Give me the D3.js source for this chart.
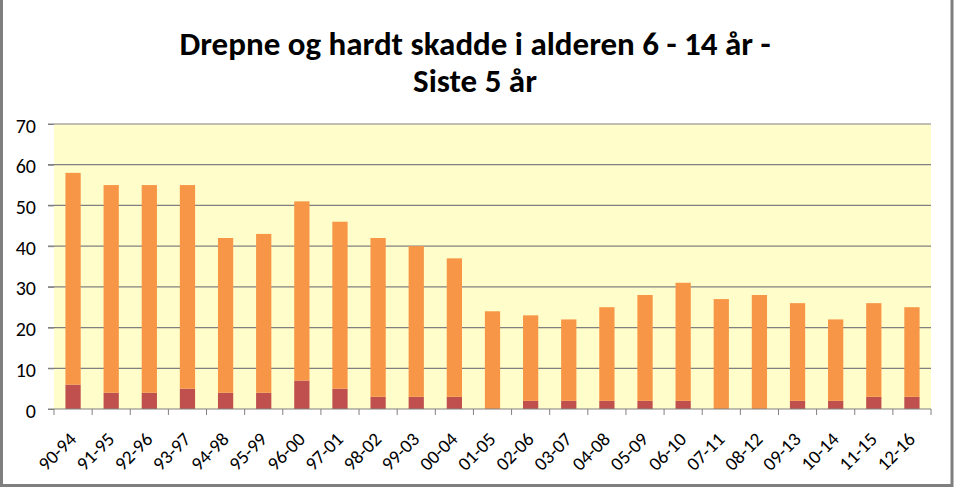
<!DOCTYPE html>
<html><head><meta charset="utf-8">
<script src="https://cdn.jsdelivr.net/npm/d3@7"></script>
<style>body{margin:0;background:#fff}svg{display:block}</style>
</head><body>
<script>
const categories = ["90-94","91-95","92-96","93-97","94-98","95-99","96-00","97-01","98-02","99-03","00-04","01-05","02-06","03-07","04-08","05-09","06-10","07-11","08-12","09-13","10-14","11-15","12-16"];
const totals = [58,55,55,55,42,43,51,46,42,40,37,24,23,22,25,28,31,27,28,26,22,26,25];
const killed = [6,4,4,5,4,4,7,5,3,3,3,0,2,2,2,2,2,0,0,2,2,3,3];
const yTicks = [0,10,20,30,40,50,60,70];
const titleLines = ["Drepne og hardt skadde i alderen 6 - 14 år -", "Siste 5 år"];

const W = 955, H = 490;
const m = {left:54, right:24, top:124, bottom:81};
const font = "Carlito, Calibri, Lato, 'Open Sans', sans-serif";
const svg = d3.select("body").append("svg").attr("width", W).attr("height", H);

svg.append("rect").attr("x",1.5).attr("y",-3).attr("width",W-4.5).attr("height",H-1.5)
  .attr("fill","#fff").attr("stroke","#7f7f7f").attr("stroke-width",3);

const x = d3.scaleBand().domain(categories).range([m.left, W - m.right]).paddingInner(0.6).paddingOuter(0.3);
const y = d3.scaleLinear().domain([0,70]).range([H - m.bottom, m.top]);

svg.append("rect").attr("x", m.left).attr("y", m.top).attr("width", W - m.right - m.left).attr("height", H - m.bottom - m.top).attr("fill","#FFFDC9");

svg.append("g").selectAll("line").data(yTicks.filter(d=>d>0)).join("line")
  .attr("x1", m.left - 6).attr("x2", W - m.right)
  .attr("y1", d=>y(d)).attr("y2", d=>y(d))
  .attr("stroke","#808080").attr("stroke-width",1.2);

const rows = categories.map((c,i)=>({c, killed:killed[i], injured:totals[i]-killed[i]}));
const stack = d3.stack().keys(["killed","injured"])(rows);
const colors = {killed:"#C0504D", injured:"#F79646"};
svg.append("g").selectAll("g").data(stack).join("g").attr("fill", d=>colors[d.key])
  .selectAll("rect").data(d=>d).join("rect")
  .attr("x", d=>x(d.data.c)).attr("width", x.bandwidth())
  .attr("y", d=>y(d[1])).attr("height", d=>y(d[0]) - y(d[1]));

const ya = svg.append("g").attr("transform",`translate(${m.left},0)`)
  .call(d3.axisLeft(y).tickValues(yTicks).tickSize(6).tickPadding(12));
ya.select(".domain").remove();
ya.selectAll("line").attr("stroke","#808080");
ya.selectAll("text").style("font-family",font).style("font-size","20px").attr("fill","#000").attr("dy","0.4em");

const xa = svg.append("g").attr("transform",`translate(0,${y(0)})`);
xa.append("line").attr("x1",m.left - 6).attr("x2",W-m.right).attr("stroke","#808080").attr("stroke-width",1.2);
const step = x.step();
const bounds = categories.map(c => x(c) - step*x.paddingInner()/2).concat([W - m.right]);
xa.selectAll(".tk").data(bounds).join("line").attr("class","tk")
  .attr("x1",d=>d).attr("x2",d=>d).attr("y1",0).attr("y2",6).attr("stroke","#808080");
xa.selectAll(".xl").data(categories).join("text").attr("class","xl")
  .attr("transform", d=>`translate(${x(d)+x.bandwidth()/2-5},${22}) rotate(-45)`)
  .attr("text-anchor","end").attr("dy","0.7em")
  .style("font-family",font).style("font-size","19px").attr("fill","#000").text(d=>d);

svg.append("g").selectAll("text").data(titleLines).join("text")
  .attr("x", 475).attr("y",(d,i)=>55+i*37).attr("text-anchor","middle")
  .style("font-family",font).attr("font-weight","bold").style("font-size","33px").attr("fill","#000").text(d=>d);
</script>
</body></html>
